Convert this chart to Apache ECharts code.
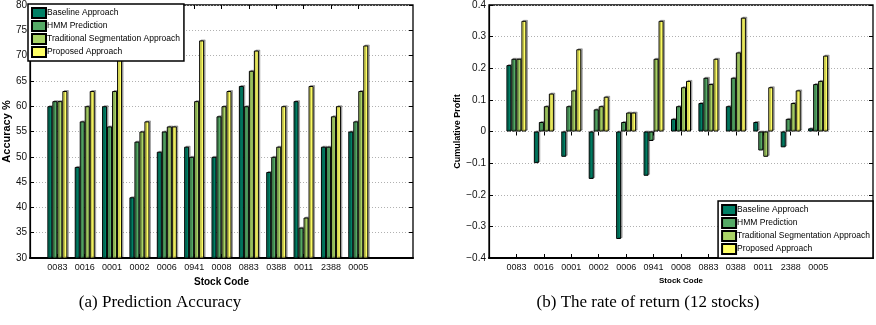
<!DOCTYPE html>
<html>
<head>
<meta charset="utf-8">
<script src="https://cdn.jsdelivr.net/npm/echarts@6/dist/echarts.min.js"></script>
<style>
html,body{margin:0;padding:0;background:#fff;}
#c{width:876px;height:325px;}
</style>
</head>
<body>
<div id="c"></div>
<script>
// ---- data ----
var stockCodes = ['0083','0016','0001','0002','0006','0941','0008','0883','0388','0011','2388','0005'];
var seriesNames = ['Baseline Approach','HMM Prediction','Traditional Segmentation Approach','Proposed Approach'];

// (a) Prediction Accuracy (%)
var accBaseline    = [60, 48, 60, 42, 51, 52, 50, 64, 47, 61, 52, 55];
var accHMM         = [61, 57, 56, 53, 55, 50, 58, 60, 50, 36, 52, 57];
var accTraditional = [61, 60, 63, 55, 56, 61, 60, 67, 52, 38, 58, 63];
var accProposed    = [63, 63, 74, 57, 56, 73, 63, 71, 60, 64, 60, 72];

// (b) Cumulative Profit
var retBaseline    = [0.21, -0.10, -0.08, -0.15, -0.34, -0.14, 0.04, 0.09, 0.08, 0.03, -0.05, 0.01];
var retHMM         = [0.23, 0.03, 0.08, 0.07, 0.03, -0.03, 0.08, 0.17, 0.17, -0.06, 0.04, 0.15];
var retTraditional = [0.23, 0.08, 0.13, 0.08, 0.06, 0.23, 0.14, 0.15, 0.25, -0.08, 0.09, 0.16];
var retProposed    = [0.35, 0.12, 0.26, 0.11, 0.06, 0.35, 0.16, 0.23, 0.36, 0.14, 0.13, 0.24];

var captionA = '(a) Prediction Accuracy';
var captionB = '(b) The rate of return (12 stocks)';

// ---- build ----
var colors = ['#008066', '#55aa66', '#aad466', '#ffff66'];
var FONT = '"Liberation Sans", Arial, Helvetica, sans-serif';
// x positions 0..14, stocks at 1..12
var cats = [''].concat(stockCodes).concat(['', '']);
function pad(arr){ return [null].concat(arr).concat([null, null]); }
function tickFn(index, value){ return value !== ''; }

function xAxes(gi, nameSize){
  return [{
    type:'category', gridIndex:gi, data:cats, boundaryGap:false, position:'bottom',
    axisLine:{show:true, onZero:false, lineStyle:{color:'#000', width:2}},
    axisTick:{show:true, inside:true, length:4, interval:tickFn, lineStyle:{color:'#000'}},
    axisLabel:{show:true, interval:0, color:'#111', fontSize:9, fontFamily:FONT, margin:5},
    splitLine:{show:false},
    name:'Stock Code', nameLocation:'middle', nameGap:13,
    nameTextStyle:{fontWeight:'bold', fontSize:nameSize, fontFamily:FONT, color:'#000'}
  },{
    type:'category', gridIndex:gi, data:cats, boundaryGap:false, position:'top',
    axisLine:{show:false},
    axisTick:{show:true, inside:true, length:4, interval:tickFn, lineStyle:{color:'#000'}},
    axisLabel:{show:false}, splitLine:{show:false}
  }];
}
function yAxes(gi, min, max, interval, fmt, name, nameSize, nameGap){
  return [{
    type:'value', gridIndex:gi, min:min, max:max, interval:interval, position:'left',
    axisLine:{show:true, lineStyle:{color:'#000', width:1.2}},
    axisTick:{show:true, inside:true, length:4, lineStyle:{color:'#000'}},
    axisLabel:{color:'#111', fontSize:10, fontFamily:FONT, margin:3, formatter:fmt},
    splitLine:{show:true, lineStyle:{color:'#b0b0b0', type:[1,2], width:1}},
    name:name, nameLocation:'middle', nameGap:nameGap,
    nameTextStyle:{fontWeight:'bold', fontSize:nameSize, fontFamily:FONT, color:'#000'}
  },{
    type:'value', gridIndex:gi, min:min, max:max, interval:interval, position:'right',
    axisLine:{show:false},
    axisTick:{show:true, inside:true, length:4, lineStyle:{color:'#000'}},
    axisLabel:{show:false}, splitLine:{show:false}
  }];
}
function barSeries(name, data, color, xi, yi){
  return {
    type:'bar', name:name, data:pad(data), xAxisIndex:xi, yAxisIndex:yi,
    barWidth:5, barGap:'0%',
    itemStyle:{color:color, borderColor:'#000', borderWidth:1,
      shadowColor:'rgba(0,0,0,0.28)', shadowOffsetX:1.5, shadowOffsetY:-1, shadowBlur:0},
    emphasis:{disabled:true}, animation:false
  };
}
var accData = [accBaseline, accHMM, accTraditional, accProposed];
var retData = [retBaseline, retHMM, retTraditional, retProposed];
var series = [];
for (var i=0;i<4;i++) series.push(barSeries(seriesNames[i], accData[i], colors[i], 0, 0));
for (var j=0;j<4;j++) series.push(barSeries(seriesNames[j], retData[j], colors[j], 2, 2));

function retFmt(v){
  if (Math.abs(v) < 1e-9) return '0';
  return v.toFixed(1).replace('-', '\u2212');
}

var legendCommon = {
  orient:'vertical', data:seriesNames, itemWidth:14, itemHeight:10, itemGap:1,
  borderColor:'#000', borderWidth:1.5, backgroundColor:'#fff',
  textStyle:{fontSize:8.5, lineHeight:10, fontFamily:FONT, color:'#000', padding:[0,0,0,-4]},
  selectedMode:false, icon:'rect'
};

var chart = echarts.init(document.getElementById('c'), null, {renderer:'canvas'});
chart.setOption({
  animation:false,
  backgroundColor:'#fff',
  grid:[
    {left:28, top:4, width:385, height:254, show:true, borderColor:'#000', borderWidth:1.3, backgroundColor:'transparent'},
    {left:489, top:4, width:384, height:254, show:true, borderColor:'#000', borderWidth:1.3, backgroundColor:'transparent'}
  ],
  xAxis: xAxes(0, 10).concat(xAxes(1, 8)),
  yAxis: yAxes(0, 30, 80, 5, null, 'Accuracy %', 11, 14)
    .concat(yAxes(1, -0.4, 0.4, 0.1, retFmt, 'Cumulative Profit', 9, 20)),
  legend:[
    Object.assign({}, legendCommon, {left:28, top:4, padding:[3,4,3,3]}),
    Object.assign({}, legendCommon, {right:3, bottom:67, padding:[3,3,3,3]})
  ],
  series: series,
  graphic:[
    {type:'text', x:160, y:303, style:{text:captionA, font:'17px "Liberation Serif", "Times New Roman", serif', fill:'#000', textAlign:'center', textVerticalAlign:'middle'}},
    {type:'text', x:648, y:303, style:{text:captionB, font:'17px "Liberation Serif", "Times New Roman", serif', fill:'#000', textAlign:'center', textVerticalAlign:'middle'}}
  ]
});
</script>
</body>
</html>
